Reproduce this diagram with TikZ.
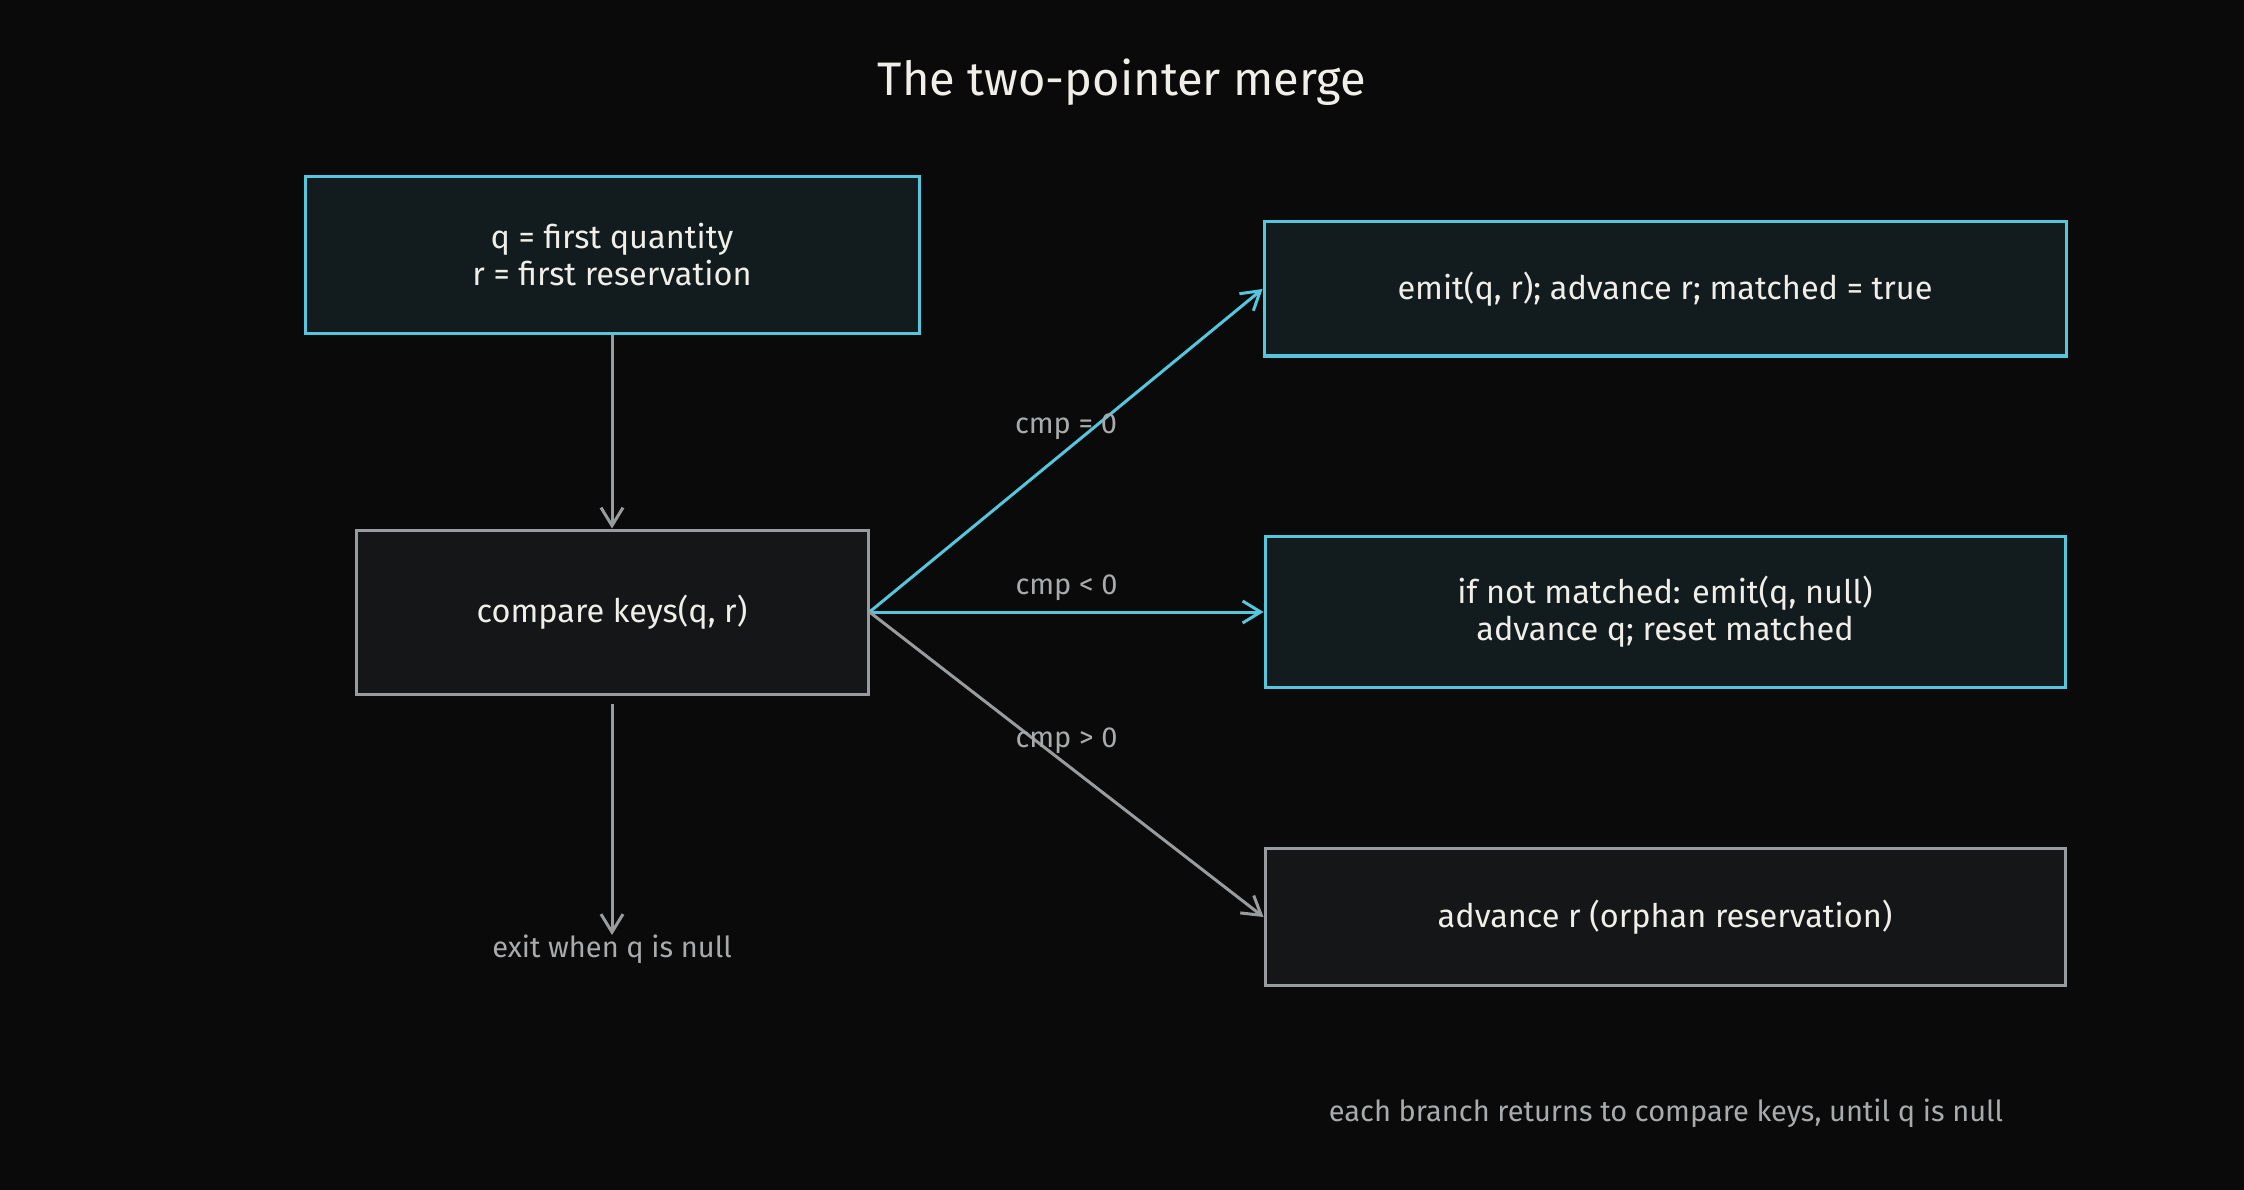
\documentclass[tikz,border=0pt]{standalone}
\usepackage{fontspec}
\setmainfont{Fira Sans}
\usetikzlibrary{arrows.meta}
\definecolor{mergeBg}{HTML}{0A0A0A}
\definecolor{mergeCyan}{HTML}{55C6DC}
\definecolor{mergeCyanFill}{HTML}{121B1E}
\definecolor{mergeGray}{HTML}{999C9E}
\definecolor{mergeGrayFill}{HTML}{141617}
\definecolor{mergeText}{HTML}{EFEEE8}
\definecolor{mergeLabel}{HTML}{A8AAAC}

\begin{document}
\begin{tikzpicture}[x=1pt, y=-1pt,
        cyanbox/.style={draw=mergeCyan, fill=mergeCyanFill, line width=3pt, text=mergeText, align=center, font=\fontsize{32.5}{37}\selectfont},
        graybox/.style={cyanbox, draw=mergeGray, fill=mergeGrayFill},
        flow/.style={line width=3pt, -{Straight Barb[length=18pt,width=22pt]}},
        edgelabel/.style={text=mergeLabel, font=\fontsize{29}{34}\selectfont}]
            \fill[mergeBg] (0,0) rectangle (2244,1190);
            \useasboundingbox (0,0) rectangle (2244,1190);
            \node[text=mergeText, font=\fontsize{47}{56}\selectfont] (title) at (1122,82) {The two-pointer merge};
            \node[cyanbox, minimum width=614pt, minimum height=157pt] (init) at (612,255) {q = first quantity\\r = first reservation};
            \node[graybox, minimum width=512pt, minimum height=164pt] (cmp) at (612,612) {compare keys(q, r)};
            \node[cyanbox, minimum width=802pt, minimum height=134pt] (emit) at (1665,289) {emit(q, r); advance r; matched = true};
            \node[cyanbox, minimum width=800pt, minimum height=151pt] (skipq) at (1665,612) {if not matched: emit(q, null)\\advance q; reset matched};
            \node[graybox, minimum width=800pt, minimum height=137pt] (skipr) at (1665,917) {advance r (orphan reservation)};
            \node[edgelabel, anchor=north, inner sep=0pt] (exit) at (612,935) {exit when q is null};
            \node[edgelabel] (footer) at (1666,1113) {each branch returns to compare keys, until q is null};
            \draw[flow, mergeGray] (init) -- (cmp);
            \draw[flow, mergeGray, shorten <=8pt] (cmp) -- (exit);
            \draw[flow, mergeCyan] (cmp.east) -- node[edgelabel, yshift=24pt] {cmp = 0} (emit.west);
            \draw[flow, mergeCyan] (cmp.east) -- node[edgelabel, yshift=24pt] {cmp < 0} (skipq.west);
            \draw[flow, mergeGray] (cmp.east) -- node[edgelabel, yshift=24pt] {cmp > 0} (skipr.west);
        \end{tikzpicture}
\end{document}
